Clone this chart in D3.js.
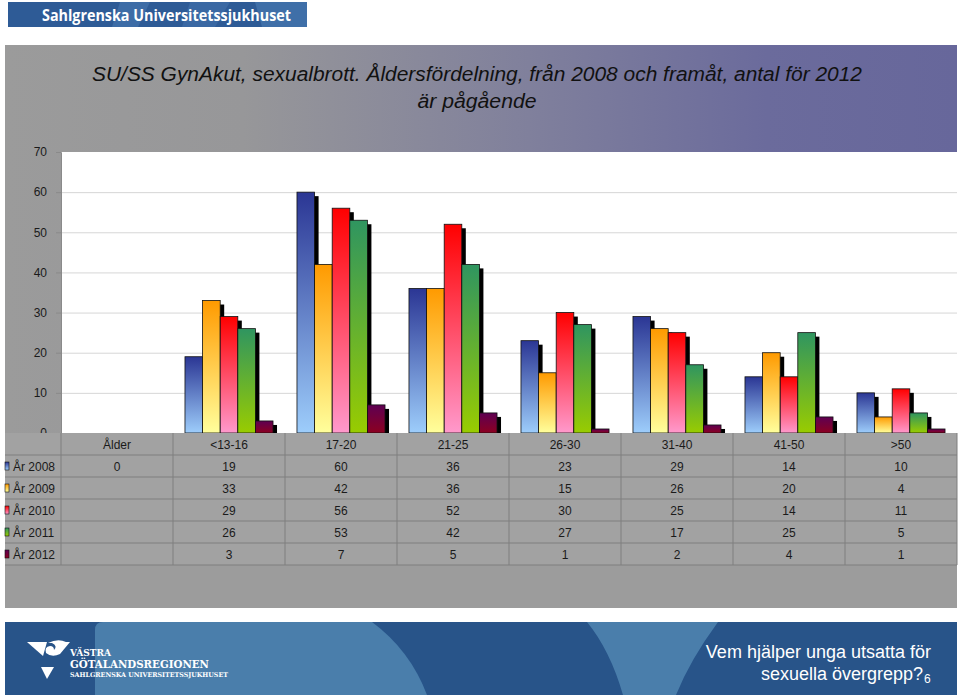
<!DOCTYPE html>
<html><head><meta charset="utf-8">
<script src="https://cdn.jsdelivr.net/npm/d3@7"></script>
<style>
html,body{margin:0;padding:0;background:#fff;}
svg{display:block;font-family:"Liberation Sans",Arial,Helvetica,sans-serif;}
</style></head>
<body><svg id="c" width="960" height="696"></svg>
<script>
const categories = ["Ålder","<13-16","17-20","21-25","26-30","31-40","41-50",">50"];
const seriesNames = ["År 2008","År 2009","År 2010","År 2011","År 2012"];
const y2008 = [0,19,60,36,23,29,14,10];
const y2009 = [null,33,42,36,15,26,20,4];
const y2010 = [null,29,56,52,30,25,14,11];
const y2011 = [null,26,53,42,27,17,25,5];
const y2012 = [null,3,7,5,1,2,4,1];
const yTicks = [0,10,20,30,40,50,60,70];
const titleLines = ["SU/SS GynAkut, sexualbrott. Åldersfördelning, från 2008 och framåt, antal för 2012","är pågående"];
const seriesColors = [["#2b3694","#9dcdfb"],["#ff9a00","#ffff9c"],["#ff0000","#ff99cc"],["#2f9560","#99cc00"],["#5e0052","#8c0020"]];

const FF = "'Liberation Sans', Arial, Helvetica, sans-serif";
const series = [y2008,y2009,y2010,y2011,y2012];
const svg = d3.select("#c");
const defs = svg.append("defs");

seriesColors.forEach((c,i)=>{
  const g = defs.append("linearGradient").attr("id","bg"+i).attr("x1",0).attr("y1",0).attr("x2",0).attr("y2",1);
  g.append("stop").attr("offset","0%").attr("stop-color",c[0]);
  g.append("stop").attr("offset","100%").attr("stop-color",c[1]);
});
const pg = defs.append("linearGradient").attr("id","panelg").attr("x1",0).attr("y1",0).attr("x2",1).attr("y2",0);
[["0%","#9b9b9b"],["25%","#979799"],["55%","#80809c"],["80%","#6b6b9c"],["100%","#67679b"]].forEach(s=>pg.append("stop").attr("offset",s[0]).attr("stop-color",s[1]));

// ---- header banner
const hb = svg.append("g");
hb.append("rect").attr("x",8).attr("y",2).attr("width",299).attr("height",25).attr("fill","#2e5b96");
hb.append("path").attr("d","M120,2 L150,2 L138,27 L112,27 Z").attr("fill","#3d6ca6");
hb.append("path").attr("d","M190,2 L230,2 L215,27 L182,27 Z").attr("fill","#3a68a3");
hb.append("path").attr("d","M255,2 L307,2 L307,27 L262,27 Z").attr("fill","#3f6fa8");
hb.append("text").attr("x",42).attr("y",21).attr("fill","#fff").attr("font-family","'Open Sans',sans-serif")
  .attr("font-weight","bold").attr("font-size",16.5).attr("textLength",249).attr("lengthAdjust","spacingAndGlyphs")
  .text("Sahlgrenska Universitetssjukhuset");

// ---- panel
const P = {l:5, r:957, t:45, b:608};
svg.append("rect").attr("x",P.l).attr("y",P.t).attr("width",P.r-P.l).attr("height",P.b-P.t).attr("fill","#9c9c9c");
svg.append("rect").attr("x",P.l).attr("y",P.t).attr("width",P.r-P.l).attr("height",433-P.t).attr("fill","url(#panelg)");

// title
svg.append("g").selectAll("text").data(titleLines).join("text")
  .attr("x",477).attr("y",(d,i)=>81+i*27).attr("text-anchor","middle").attr("font-family",FF)
  .attr("font-style","italic").attr("font-size",20.5).attr("fill","#111")
  .attr("textLength",(d,i)=>i===0?770:119).attr("lengthAdjust","spacingAndGlyphs")
  .text(d=>d);

// plot
const plot = {l:61, r:957, t:152, b:433};
svg.append("rect").attr("x",plot.l).attr("y",plot.t).attr("width",plot.r-plot.l).attr("height",plot.b-plot.t).attr("fill","#fff");

const x = d3.scaleBand().domain(categories).range([plot.l,plot.r]).padding(0);
const x1 = d3.scaleBand().domain(seriesNames).range([0,x.bandwidth()]).paddingInner(0).paddingOuter(0.68);
const y = d3.scaleLinear().domain([0,70]).range([plot.b,plot.t]);

svg.append("g").attr("transform",`translate(${plot.l},0)`)
  .call(d3.axisLeft(y).tickValues(yTicks.filter(t=>t>0 && t<70)).tickSize(-(plot.r-plot.l)).tickFormat(""))
  .call(g=>{g.select(".domain").remove(); g.selectAll("line").attr("stroke","#d6d6d6");});
svg.append("g").attr("transform",`translate(${plot.l},0)`)
  .call(d3.axisLeft(y).tickValues(yTicks).tickSize(5).tickPadding(9))
  .call(g=>{g.select(".domain").attr("stroke","#8a8a8a");
    g.selectAll("line").attr("stroke","#8a8a8a");
    g.selectAll("text").attr("font-size",12).attr("fill","#1a1a1a").attr("font-family",FF);});

// bars with shadows
const bars = svg.append("g");
series.forEach((vals,si)=>{
  const g = bars.append("g");
  const data = categories.map((c,ci)=>({c, v:vals[ci]})).filter(d=>d.v!=null && d.v>0);
  g.selectAll("rect.sh").data(data).join("rect").attr("class","sh")
    .attr("x",d=>x(d.c)+x1(seriesNames[si])+4).attr("y",d=>y(d.v)+4)
    .attr("width",x1.bandwidth()).attr("height",d=>Math.max(0,y(0)-y(d.v)-4)).attr("fill","#000");
  g.selectAll("rect.b").data(data).join("rect").attr("class","b")
    .attr("x",d=>x(d.c)+x1(seriesNames[si])).attr("y",d=>y(d.v))
    .attr("width",x1.bandwidth()).attr("height",d=>y(0)-y(d.v))
    .attr("fill",`url(#bg${si})`).attr("stroke","#111").attr("stroke-width",0.8);
});

// ---- data table
const rowY = d3.scaleBand().domain(["head"].concat(seriesNames)).range([433,565]);
const tbl = svg.append("g").attr("font-family",FF);
tbl.append("rect").attr("x",P.l).attr("y",433).attr("width",P.r-P.l).attr("height",132).attr("fill","#a2a2a2");
const lc = "#7e7e7e";
tbl.selectAll("line.h").data(seriesNames).join("line").attr("class","h")
  .attr("x1",P.l).attr("x2",P.r).attr("y1",d=>rowY(d)).attr("y2",d=>rowY(d)).attr("stroke",lc).attr("stroke-width",1);
tbl.append("line").attr("x1",P.l).attr("x2",P.r).attr("y1",565).attr("y2",565).attr("stroke",lc);
tbl.selectAll("line.v").data(categories).join("line").attr("class","v")
  .attr("x1",d=>x(d)).attr("x2",d=>x(d)).attr("y1",433).attr("y2",565).attr("stroke",lc);
tbl.append("line").attr("x1",P.r).attr("x2",P.r).attr("y1",433).attr("y2",565).attr("stroke",lc);
tbl.selectAll("text.hd").data(categories).join("text").attr("class","hd")
  .attr("x",d=>x(d)+x.bandwidth()/2).attr("y",rowY("head")+rowY.bandwidth()/2+4.5)
  .attr("text-anchor","middle").attr("font-size",12).attr("fill","#1a1a1a").text(d=>d);
seriesNames.forEach((s,si)=>{
  const cy = rowY(s)+rowY.bandwidth()/2;
  tbl.append("rect").attr("x",5).attr("y",cy-4).attr("width",4).attr("height",8)
    .attr("fill",`url(#bg${si})`).attr("stroke","#111").attr("stroke-width",0.6);
  tbl.append("text").attr("x",13).attr("y",cy+4.5).attr("font-size",12).attr("fill","#1a1a1a").text(s);
  tbl.selectAll(null).data(categories.map((c,ci)=>({c,v:series[si][ci]})).filter(d=>d.v!=null)).join("text")
    .attr("x",d=>x(d.c)+x.bandwidth()/2).attr("y",cy+4.5).attr("text-anchor","middle")
    .attr("font-size",12).attr("fill","#1a1a1a").text(d=>d.v);
});

// ---- footer
const ft = svg.append("g");
ft.append("rect").attr("x",5).attr("y",622).attr("width",952).attr("height",73).attr("fill","#285489");
ft.append("path").attr("d","M95,630 Q95,622 103,622 L372,622 Q410,650 427,695 L95,695 Z").attr("fill","#4a7eab");
ft.append("path").attr("d","M587,622 L718,622 Q690,660 676,695 L623,695 Q610,650 587,622 Z").attr("fill","#4a7eab");
const lg = ft.append("g").attr("fill","#fff");
lg.append("path").attr("d","M27,642 L47,642 L43,656 Z");
lg.append("path").attr("d","M48,643 Q58,638 66,642 L70,642 L60,654 Q52,658 46,653 Q44,647 50,646 Q54,646 54,650 Q58,646 52,643 Z");
lg.append("path").attr("d","M41,667 L54,667 L47,679 Z");
lg.append("text").attr("x",70).attr("y",656).attr("font-family","'DejaVu Serif',serif").attr("font-weight","bold").attr("font-size",9).text("VÄSTRA");
lg.append("text").attr("x",70).attr("y",668).attr("font-family","'DejaVu Serif',serif").attr("font-weight","bold").attr("font-size",11)
  .attr("textLength",139).attr("lengthAdjust","spacingAndGlyphs").text("GÖTALANDSREGIONEN");
lg.append("text").attr("x",70).attr("y",677).attr("font-family","'DejaVu Serif',serif").attr("font-weight","bold").attr("font-size",6.5)
  .attr("textLength",158).attr("lengthAdjust","spacingAndGlyphs").text("SAHLGRENSKA UNIVERSITETSSJUKHUSET");
ft.append("text").attr("x",931).attr("y",658).attr("text-anchor","end").attr("fill","#fff").attr("font-family",FF).attr("font-size",18).text("Vem hjälper unga utsatta för");
ft.append("text").attr("x",923).attr("y",680).attr("text-anchor","end").attr("fill","#fff").attr("font-family",FF).attr("font-size",18).text("sexuella övergrepp?");
ft.append("text").attr("x",924).attr("y",683).attr("fill","#fff").attr("font-family",FF).attr("font-size",12).text("6");
</script></body></html>
